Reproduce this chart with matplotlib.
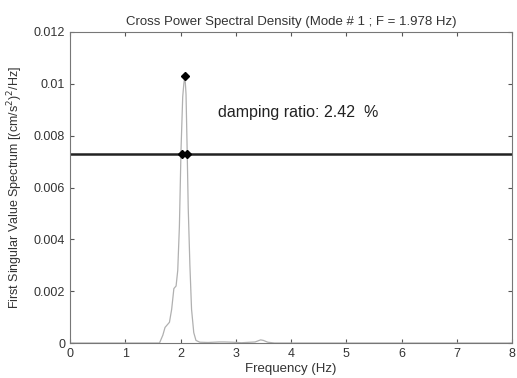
import matplotlib
matplotlib.use("Agg")
import matplotlib.pyplot as plt

plt.rcParams['font.family'] = ['Liberation Sans', 'DejaVu Sans']

freq = [0, 1.5, 1.62, 1.68, 1.72, 1.76, 1.80, 1.84, 1.88, 1.92, 1.95, 1.98,
        2.01, 2.04, 2.06, 2.08, 2.10, 2.12, 2.14, 2.17, 2.20, 2.24, 2.28,
        2.35, 2.5, 2.7, 2.8, 2.95, 3.1, 3.35, 3.45, 3.5, 3.58, 3.7, 8]
psd = [0, 0, 0, 0.0003, 0.0006, 0.0007, 0.0008, 0.0013, 0.0021, 0.0022,
       0.0028, 0.0045, 0.0075, 0.0095, 0.0100, 0.0103, 0.0096, 0.0075,
       0.0052, 0.0030, 0.0013, 0.0004, 0.0001, 0.00003, 0.00002, 0.00004,
       0.00004, 0.00003, 0.00001, 0.00004, 0.00012, 0.0001, 0.00003, 0, 0]

peak_f, peak_v = 2.08, 0.0103
half_power = 0.0073
half_f = [2.03, 2.12]
damping = 2.42

fig = plt.figure(figsize=(5.17, 3.78), dpi=100)
ax = fig.add_axes([70 / 517, 35 / 378, 442 / 517, 311 / 378])

ax.plot(freq, psd, color='#b0b0b0', linewidth=0.9)
ax.axhline(half_power, color='#222222', linewidth=1.8)
ax.plot([peak_f], [peak_v], 'kD', markersize=4)
ax.plot(half_f, [half_power] * 2, 'kD', markersize=4)
ax.text(2.68, 0.0089, "damping ratio: %.2f  %%" % damping, fontsize=11.5,
        color='#222222', va='center')

ax.set_xlim(0, 8)
ax.set_ylim(0, 0.012)
ax.set_xticks(range(9))
ax.set_yticks([0, 0.002, 0.004, 0.006, 0.008, 0.01, 0.012])
ax.set_yticklabels(['0', '0.002', '0.004', '0.006', '0.008', '0.01', '0.012'])
ax.tick_params(direction='in', top=True, right=True, labelsize=9,
               colors='#555555', labelcolor='#333333', length=3)
for s in ax.spines.values():
    s.set_color('#777777')

ax.set_xlabel("Frequency (Hz)", fontsize=9.5, color='#333333', labelpad=2)
ax.set_ylabel("First Singular Value Spectrum [(cm/s$^2$)$^2$/Hz]", fontsize=9,
              color='#333333', labelpad=6)
ax.set_title("Cross Power Spectral Density (Mode # 1 ; F = 1.978 Hz)",
             fontsize=9.5, color='#333333', pad=5)

fig.savefig("out.png", dpi=100)
